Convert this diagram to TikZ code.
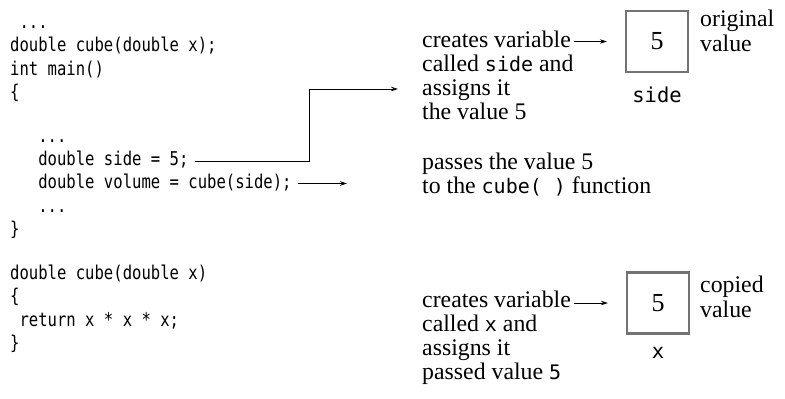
\documentclass[tikz,border=0pt]{standalone}
\usepackage{fontspec}
\setmainfont{Liberation Serif}
\newfontfamily\codefont[FakeStretch=0.82]{DejaVu Sans Mono}
\newfontfamily\monofont{DejaVu Sans Mono}
\usetikzlibrary{arrows.meta}
\newcommand{\mn}[1]{{\monofont\fontsize{20}{22}\selectfont #1}}
\tikzset{
  code/.style={font=\codefont\fontsize{19}{21}\selectfont, anchor=base west, inner sep=0pt},
  prose/.style={font=\fontsize{23.8}{26}\selectfont, anchor=base west, inner sep=0pt},
  lbl/.style={font=\monofont\fontsize{20.5}{22}\selectfont, anchor=base, inner sep=0pt},
  valbox/.style={draw=black!55, line width=2.2pt, minimum width=62pt, minimum height=61pt, inner sep=0pt, font=\fontsize{26}{28}\selectfont},
  arr/.style={-{Stealth[length=7pt,width=4.5pt]}, line width=0.9pt}
}
\begin{document}
\begin{tikzpicture}[x=1pt,y=-1pt]
\path[use as bounding box] (0,0) rectangle (785,399);
% code
\node[code] (c1) at (10,28) {\hphantom{0}...};
\node[code] (c2) at (10,51.5) {double cube(double x);};
\node[code] (c3) at (10,75) {int main()};
\node[code] (c4) at (10,98) {\{};
\node[code] (c5) at (10,142) {\hphantom{000}...};
\node[code] (c6) at (10,165) {\hphantom{000}double side = 5;};
\node[code] (c7) at (10,188.5) {\hphantom{000}double volume = cube(side);};
\node[code] (c8) at (10,212) {\hphantom{000}...};
\node[code] (c9) at (10,235.5) {\}};
\node[code] (c10) at (10,279) {double cube(double x)};
\node[code] (c11) at (10,302.5) {\{};
\node[code] (c12) at (10,326) {\hphantom{0}return x * x * x;};
\node[code] (c13) at (10,349.5) {\}};
% prose
\node[prose] (p1) at (422,47) {creates variable};
\node[prose] (p2) at (422,71) {called \mn{side} and};
\node[prose] (p3) at (422,95) {assigns it};
\node[prose] (p4) at (422,119) {the value 5};
\node[prose] (p5) at (422,169) {passes the value 5};
\node[prose] (p6) at (422,193) {to the \mn{cube(\ )} function};
\node[prose] (p7) at (422,307) {creates variable};
\node[prose] (p8) at (422,331) {called \mn{x} and};
\node[prose] (p9) at (422,355) {assigns it};
\node[prose] (p10) at (422,379) {passed value \mn{5}};
% boxes
\node[valbox] (b1) at (657,41.5) {5};
\node[valbox] (b2) at (658,303) {5};
\node[lbl] (l1) at (657,102) {side};
\node[lbl] (l2) at (658,358) {x};
\node[prose] (o1) at (700,26) {original};
\node[prose] (o2) at (700,51) {value};
\node[prose] (o3) at (700,292) {copied};
\node[prose] (o4) at (700,317) {value};
% connectors
\coordinate (s1) at ([xshift=6pt,yshift=4pt]c6.base east);
\coordinate (t1) at ([xshift=-24pt,yshift=6pt]p3.base west);
\coordinate (m1) at (309,0);
\draw[arr] (s1) -| (m1 |- t1) -- (t1);
\coordinate (s2) at ([xshift=6pt,yshift=5pt]c7.base east);
\coordinate (m2) at (347,0);
\draw[arr] (s2) -- (s2 -| m2);
\coordinate (a1) at ([xshift=3pt]p1.east);
\draw[arr] (a1 |- b1.west) -- ([xshift=-18pt]b1.west);
\coordinate (a2) at ([xshift=3pt]p7.east);
\draw[arr] (a2 |- b2.west) -- ([xshift=-18pt]b2.west);
\end{tikzpicture}
\end{document}
